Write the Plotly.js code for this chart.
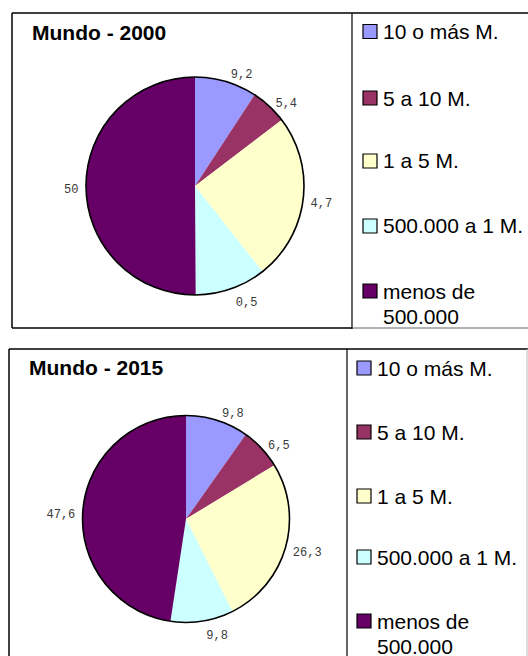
<!DOCTYPE html>
<html>
<head>
<meta charset="utf-8">
<script src="https://cdn.plot.ly/plotly-3.0.1.min.js"></script>
<style>html,body{margin:0;padding:0;background:#fff;}#chart{width:528px;height:656px;}</style>
</head>
<body>
<div id="chart"></div>
<script>
// ---- data ----
var categories = ['10 o más M.', '5 a 10 M.', '1 a 5 M.', '500.000 a 1 M.', 'menos de 500.000'];
var values2000 = [9.2, 5.4, 24.7, 10.5, 50];
var labels2000 = ['9,2', '5,4', '4,7', '0,5', '50'];
var values2015 = [9.8, 6.5, 26.3, 9.8, 47.6];
var labels2015 = ['9,8', '6,5', '26,3', '9,8', '47,6'];
var titles = ['Mundo - 2000', 'Mundo - 2015'];
var colors = ['#9999FF', '#993366', '#FFFFCC', '#CCFFFF', '#660066'];

// ---- layout helpers (pixel -> paper) ----
var W = 528, H = 656;
function px(x) { return x / W; }
function py(y) { return 1 - y / H; }

var panels = [
  {cx: 195, cy: 186, r: 109, titleX: 30, titleY: 32, legMarkX: 363, legTextX: 381,
   legY: [31.5, 98, 161, 226, 291]},
  {cx: 186, cy: 519, r: 103.5, titleX: 27, titleY: 367, legMarkX: 357, legTextX: 375,
   legY: [368, 432, 496, 557, 621]}
];
var valueSets = [values2000, values2015];
var textSets = [labels2000, labels2015];

var data = [];
var shapes = [];
var annotations = [];

panels.forEach(function (p, i) {
  // coloured pie
  data.push({
    type: 'pie',
    labels: categories,
    values: valueSets[i],
    textinfo: 'none',
    sort: false,
    direction: 'clockwise',
    rotation: 0,
    marker: {colors: colors, line: {width: 0}},
    showlegend: false,
    domain: {x: [px(p.cx - p.r), px(p.cx + p.r)], y: [py(p.cy + p.r), py(p.cy - p.r)]}
  });
  // transparent twin carrying the outside value labels (slightly larger / lower, like the original placement)
  var lr = p.r + 4, lcy = p.cy + 4;
  data.push({
    type: 'pie',
    labels: categories,
    values: valueSets[i],
    text: textSets[i],
    textinfo: 'text',
    textposition: 'outside',
    outsidetextfont: {family: 'Liberation Mono, monospace', size: 12, color: '#3a3a3a'},
    sort: false,
    direction: 'clockwise',
    rotation: 0,
    marker: {colors: ['rgba(0,0,0,0)', 'rgba(0,0,0,0)', 'rgba(0,0,0,0)', 'rgba(0,0,0,0)', 'rgba(0,0,0,0)'], line: {width: 0}},
    showlegend: false,
    domain: {x: [px(p.cx - lr), px(p.cx + lr)], y: [py(lcy + lr), py(lcy - lr)]}
  });
  // outer outline of pie
  shapes.push({type: 'circle', xref: 'paper', yref: 'paper',
    x0: px(p.cx - p.r), x1: px(p.cx + p.r), y0: py(p.cy + p.r), y1: py(p.cy - p.r),
    line: {color: '#000', width: 1.6}, fillcolor: 'rgba(0,0,0,0)', layer: 'above'});
  // title
  annotations.push({xref: 'paper', yref: 'paper', x: px(p.titleX), y: py(p.titleY),
    xanchor: 'left', yanchor: 'middle', showarrow: false, text: '<b>' + titles[i] + '</b>',
    font: {family: 'Liberation Sans, Arial, sans-serif', size: 21, color: '#000'}});
  // legend (built from categories & colors)
  categories.forEach(function (c, k) {
    var yc = p.legY[k];
    shapes.push({type: 'rect', xref: 'paper', yref: 'paper',
      x0: px(p.legMarkX), x1: px(p.legMarkX + 14), y0: py(yc + 7), y1: py(yc - 7),
      fillcolor: colors[k], line: {color: '#000', width: 1.2}});
    var lines = c.replace('menos de ', 'menos de\n').split('\n');
    lines.forEach(function (ln, j) {
      annotations.push({xref: 'paper', yref: 'paper', x: px(p.legTextX),
        y: py(yc + j * 25), xanchor: 'left', yanchor: 'middle', align: 'left',
        showarrow: false, text: ln,
        font: {family: 'Liberation Sans, Arial, sans-serif', size: 21, color: '#000'}});
    });
  });
});

// panel frames
function line(x0, y0, x1, y1, color, w) {
  shapes.push({type: 'line', xref: 'paper', yref: 'paper', x0: px(x0), y0: py(y0), x1: px(x1), y1: py(y1),
    line: {color: color, width: w}});
}
// panel 1
line(12, 13, 528, 13, '#000', 1.5);
line(12, 13, 12, 328, '#000', 1.5);
line(12, 328, 352, 328, '#000', 1.5);
line(352, 328, 528, 328, '#999', 1.5);
line(352, 13, 352, 329, '#000', 1.2);
// panel 2
line(9, 349, 528, 349, '#000', 1.5);
line(9, 349, 9, 656, '#000', 1.5);
line(347, 349, 347, 656, '#000', 1.2);
line(527, 349, 527, 656, '#bbb', 1);

var layout = {
  width: W, height: H,
  margin: {l: 0, r: 0, t: 0, b: 0},
  paper_bgcolor: '#fff', plot_bgcolor: '#fff',
  showlegend: false,
  shapes: shapes,
  annotations: annotations
};

Plotly.newPlot('chart', data, layout, {staticPlot: true});
</script>
</body>
</html>
